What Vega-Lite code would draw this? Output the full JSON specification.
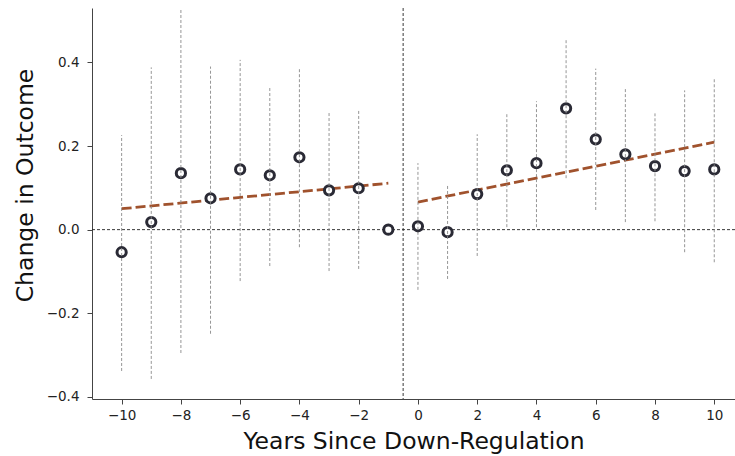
{
  "$schema": "https://vega.github.io/schema/vega-lite/v6.json",
  "autosize": {"type": "none"},
  "padding": {"left": 92, "top": 8, "right": 0, "bottom": 57},
  "width": 643,
  "height": 391,
  "background": "white",
  "config": {
    "view": {"stroke": null},
    "font": "DejaVu Sans",
    "axis": {"grid": false, "domainColor": "#444", "tickColor": "#444", "labelColor": "#222", "titleColor": "#111", "labelFont": "DejaVu Sans", "titleFont": "DejaVu Sans", "labelFontSize": 13.5, "titleFontSize": 23.5, "titleFontWeight": "normal", "tickSize": 5, "domainWidth": 1}
  },
  "datasets": {
    "est": [
      {"year": -10, "coef": -0.054, "lo": -0.338, "hi": 0.226},
      {"year": -9, "coef": 0.018, "lo": -0.357, "hi": 0.388},
      {"year": -8, "coef": 0.135, "lo": -0.295, "hi": 0.56},
      {"year": -7, "coef": 0.075, "lo": -0.249, "hi": 0.39},
      {"year": -6, "coef": 0.144, "lo": -0.123, "hi": 0.406},
      {"year": -5, "coef": 0.130, "lo": -0.087, "hi": 0.342},
      {"year": -4, "coef": 0.173, "lo": -0.042, "hi": 0.387},
      {"year": -3, "coef": 0.094, "lo": -0.099, "hi": 0.281},
      {"year": -2, "coef": 0.099, "lo": -0.094, "hi": 0.288},
      {"year": -1, "coef": 0.0, "lo": null, "hi": null},
      {"year": 0, "coef": 0.008, "lo": -0.144, "hi": 0.159},
      {"year": 1, "coef": -0.006, "lo": -0.118, "hi": 0.108},
      {"year": 2, "coef": 0.085, "lo": -0.063, "hi": 0.228},
      {"year": 3, "coef": 0.142, "lo": 0.006, "hi": 0.276},
      {"year": 4, "coef": 0.159, "lo": 0.006, "hi": 0.307},
      {"year": 5, "coef": 0.290, "lo": 0.123, "hi": 0.455},
      {"year": 6, "coef": 0.216, "lo": 0.047, "hi": 0.385},
      {"year": 7, "coef": 0.180, "lo": 0.018, "hi": 0.337},
      {"year": 8, "coef": 0.152, "lo": 0.020, "hi": 0.278},
      {"year": 9, "coef": 0.140, "lo": -0.054, "hi": 0.333},
      {"year": 10, "coef": 0.144, "lo": -0.078, "hi": 0.364}
    ],
    "trend": [
      {"year": -10, "fit": 0.050, "seg": "pre"},
      {"year": -1, "fit": 0.111, "seg": "pre"},
      {"year": 0, "fit": 0.066, "seg": "post"},
      {"year": 10, "fit": 0.209, "seg": "post"}
    ]
  },
  "layer": [
    {
      "data": {"values": [{"v": 0}]},
      "mark": {"type": "rule", "color": "#222", "strokeWidth": 0.9, "strokeDash": [3, 2]},
      "encoding": {
        "y": {"field": "v", "type": "quantitative", "scale": {"domain": [-0.405, 0.53], "nice": false, "zero": false},
              "axis": {"values": [-0.4, -0.2, 0, 0.2, 0.4], "format": ".1f", "title": "Change in Outcome", "titlePadding": 9, "labelPadding": 8, "titleY": 177}}
      }
    },
    {
      "data": {"values": [{"v": -0.5}]},
      "mark": {"type": "rule", "color": "#222", "strokeWidth": 0.9, "strokeDash": [3, 2]},
      "encoding": {
        "x": {"field": "v", "type": "quantitative", "scale": {"domain": [-11, 10.7], "nice": false, "zero": false},
              "axis": {"values": [-10, -8, -6, -4, -2, 0, 2, 4, 6, 8, 10], "title": "Years Since Down-Regulation", "titlePadding": 8, "labelPadding": 4}}
      }
    },
    {
      "data": {"name": "trend"},
      "mark": {"type": "line", "color": "#a0522d", "strokeWidth": 2.8, "strokeDash": [10, 4]},
      "encoding": {
        "x": {"field": "year", "type": "quantitative"},
        "y": {"field": "fit", "type": "quantitative"},
        "detail": {"field": "seg"}
      }
    },
    {
      "data": {"name": "est"},
      "mark": {"type": "point", "shape": "circle", "filled": false, "fill": "white", "fillOpacity": 1, "stroke": "#2a2a35", "strokeWidth": 3, "size": 85, "opacity": 1},
      "encoding": {
        "x": {"field": "year", "type": "quantitative"},
        "y": {"field": "coef", "type": "quantitative"}
      }
    },
    {
      "data": {"name": "est"},
      "transform": [{"filter": "datum.lo != null"}],
      "mark": {"type": "rule", "color": "#8a8a8a", "strokeWidth": 0.9, "strokeDash": [3, 2], "clip": true},
      "encoding": {
        "x": {"field": "year", "type": "quantitative"},
        "y": {"field": "lo", "type": "quantitative"},
        "y2": {"field": "hi"}
      }
    }
  ]
}
